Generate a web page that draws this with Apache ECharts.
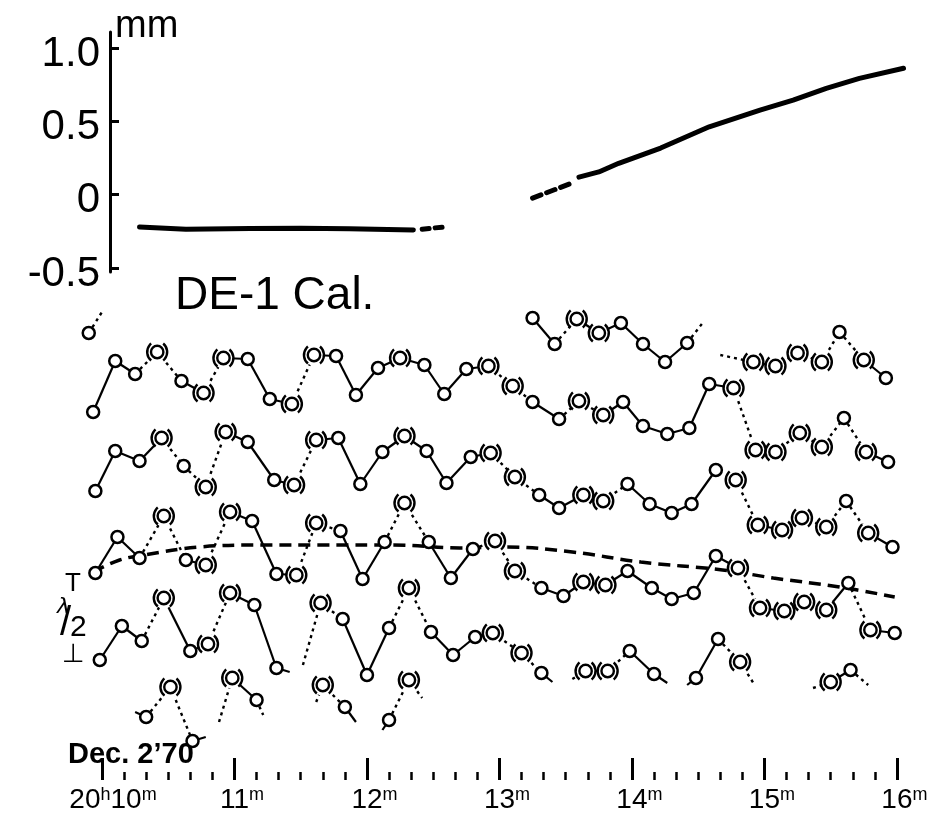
<!DOCTYPE html>
<html>
<head>
<meta charset="utf-8">
<title>DE-1 Cal.</title>
<script src="https://cdn.jsdelivr.net/npm/echarts@6/dist/echarts.min.js"></script>
<style>
  html, body { margin: 0; background: #fff; }
  #chart { width: 935px; height: 822px; }
</style>
</head>
<body>
<div id="chart"></div>
<script>
// time axis: seconds after 20h10m00s, Dec. 2 '70
const majorTicks = [0, 60, 120, 180, 240, 300, 360];
const tickHour = '20';
const tickMinutes = ['10', '11', '12', '13', '14', '15', '16'];
const minorTicks = [];
for (let s = 0; s <= 360; s += 10) if (s % 60) minorTicks.push(s);

// calibration, mm
const calTicks = [-0.5, 0, 0.5, 1.0];
const calLowSolid = [[17, -0.22], [38, -0.235], [67, -0.23], [90, -0.228], [112, -0.232], [141, -0.24]];
const calLowDash = [[145, -0.235], [155, -0.22]];
const calRiseDash = [[195, -0.023], [213, 0.08]];
const calRiseSolid = [[216, 0.12], [225, 0.155], [234, 0.214], [253, 0.318], [275, 0.463], [298, 0.577],
  [313, 0.645], [328, 0.725], [343, 0.793], [363, 0.862]];

// fringe rows: [t, offset, marker, segment from previous point]
// marker 'o' circle, 'p' bracketed circle, '' none; segment 's' solid, 'd' dotted, '' none
const row0 = [
  [-6, 44.7, 'o', ''], [0, 46.8, '', 'd'],
  [195, 46.2, 'o', ''], [205, 43.6, 'o', 's'], [215, 46.1, 'p', 'd'], [225, 44.7, 'p', 's'],
  [235, 45.7, 'o', 's'], [245, 43.6, 'o', 's'], [255, 41.8, 'o', 's'], [265, 43.7, 'o', 's'],
  [272, 45.7, '', 'd'],
  [280, 42.5, '', ''], [295, 41.8, 'p', 'd'], [305, 41.4, 'p', 's'], [315, 42.7, 'p', 'd'],
  [326, 41.8, 'p', 'd'], [334, 44.8, 'o', 'd'], [345, 42.0, 'p', 'd'], [355, 40.2, 'o', 's'],
];
const row1 = [
  [-4, 36.8, 'o', ''], [6, 41.9, 'o', 's'], [15, 40.6, 'o', 's'], [25, 42.8, 'p', 'd'],
  [36, 39.9, 'o', 'd'], [46, 38.7, 'p', 's'], [55, 42.2, 'p', 'd'], [66, 42.1, 'o', 's'],
  [76, 38.1, 'o', 's'], [86, 37.6, 'p', 's'], [96, 42.5, 'p', 'd'], [106, 42.4, 'o', 's'],
  [115, 38.5, 'o', 's'], [125, 41.2, 'o', 's'], [135, 42.2, 'p', 's'], [146, 41.5, 'o', 's'],
  [155, 38.6, 'o', 's'], [165, 41.1, 'o', 's'], [175, 41.4, 'p', 's'], [186, 39.4, 'p', 'd'],
  [195, 37.8, 'o', 'd'], [207, 36.1, 'o', 's'], [216, 37.9, 'p', 'd'], [227, 36.5, 'p', 'd'],
  [236, 37.8, 'o', 's'], [245, 35.4, 'o', 's'], [256, 34.6, 'o', 's'], [266, 35.2, 'o', 's'],
  [275, 39.6, 'o', 's'], [286, 39.2, 'p', 's'], [296, 33.0, 'p', 'd'], [305, 32.8, 'p', 's'],
  [316, 34.7, 'p', 'd'], [326, 33.3, 'p', 'd'], [336, 36.2, 'o', 'd'], [346, 32.8, 'p', 'd'],
  [356, 31.8, 'o', 's'],
];
const row2 = [
  [-3, 28.9, 'o', ''], [6, 32.9, 'o', 's'], [17, 31.9, 'o', 's'], [27, 34.2, 'p', 's'],
  [37, 31.4, 'o', 'd'], [47, 29.3, 'p', 'd'], [56, 34.8, 'p', 'd'], [66, 33.8, 'o', 's'],
  [78, 30.0, 'o', 's'], [87, 29.5, 'p', 's'], [97, 34.0, 'p', 'd'], [107, 34.2, 'o', 's'],
  [117, 29.6, 'o', 's'], [127, 32.8, 'o', 's'], [137, 34.4, 'p', 's'], [147, 32.9, 'o', 's'],
  [156, 29.7, 'o', 's'], [167, 32.3, 'o', 's'], [176, 32.7, 'p', 's'], [187, 30.3, 'p', 'd'],
  [198, 28.5, 'o', 'd'], [207, 27.2, 'o', 's'], [218, 28.5, 'p', 's'], [227, 27.9, 'p', 's'],
  [238, 29.6, 'o', 'd'], [248, 27.6, 'o', 's'], [258, 26.7, 'o', 's'], [267, 27.6, 'o', 's'],
  [278, 31.0, 'o', 's'], [287, 30.0, 'p', ''], [297, 25.5, 'p', 'd'], [308, 25.0, 'p', 's'],
  [317, 26.2, 'p', 'd'], [328, 25.3, 'p', 'd'], [337, 27.9, 'o', 'd'], [347, 24.7, 'p', 'd'],
  [358, 23.3, 'o', 's'],
];
const row3 = [
  [-3, 20.7, 'o', ''], [7, 24.3, 'o', 's'], [17, 22.2, 'o', 's'], [28, 26.4, 'p', 'd'],
  [38, 22.0, 'o', 'd'], [47, 21.5, 'p', 's'], [58, 26.8, 'p', 'd'], [68, 25.9, 'o', 's'],
  [79, 20.6, 'o', 's'], [88, 20.5, 'p', 's'], [97, 25.7, 'p', 'd'], [108, 24.9, 'o', 'd'],
  [118, 20.1, 'o', 's'], [128, 23.8, 'o', 's'], [137, 27.7, 'p', 'd'], [148, 23.8, 'o', 'd'],
  [158, 20.2, 'o', 's'], [168, 23.1, 'o', 's'], [178, 23.9, 'p', 'd'], [187, 20.9, 'p', 'd'],
  [199, 19.2, 'o', 'd'], [209, 18.4, 'o', 's'], [218, 19.8, 'p', 's'], [228, 19.5, 'p', 's'],
  [238, 20.9, 'o', 's'], [249, 19.2, 'o', 's'], [258, 18.1, 'o', 's'], [268, 18.7, 'o', 's'],
  [278, 22.4, 'o', 's'], [288, 21.2, 'p', 's'], [298, 17.2, 'p', 'd'], [309, 16.9, 'p', 's'],
  [318, 17.8, 'p', 'd'], [328, 17.0, 'p', 'd'], [338, 19.7, 'o', 's'], [348, 15.0, 'p', 'd'],
  [359, 14.7, 'o', 's'],
];
const row4 = [
  [-1, 12.0, 'o', ''], [9, 15.4, 'o', 's'], [18, 13.9, 'o', 's'], [28, 18.2, 'p', 'd'],
  [40, 12.9, 'o', 's'], [48, 13.6, 'p', 's'], [58, 18.7, 'p', 'd'], [69, 17.5, 'o', 's'],
  [79, 11.2, 'o', 's'], [85, 10.8, '', 's'],
  [91, 11.5, '', ''], [99, 17.7, 'p', 'd'], [109, 16.1, 'o', 'd'], [120, 10.5, 'o', 's'],
  [130, 15.2, 'o', 's'], [139, 19.2, 'p', 'd'], [149, 14.8, 'o', 'd'], [159, 12.5, 'o', 's'],
  [169, 14.3, 'o', 's'], [177, 14.7, 'p', 's'], [190, 12.7, 'p', 'd'], [199, 10.7, 'o', 'd'],
  [204, 9.8, '', 's'],
  [213, 10.1, '', ''], [219, 10.9, 'p', 'd'], [229, 10.9, 'p', 's'], [239, 12.9, 'o', 'd'],
  [250, 10.6, 'o', 's'], [256, 9.7, '', 's'],
  [265, 9.5, '', ''], [269, 10.2, 'o', 's'], [279, 14.1, 'o', 's'], [289, 11.8, 'p', 'd'],
  [295, 9.7, '', 'd'],
  [322, 9.2, '', ''], [330, 9.8, 'p', 'd'], [339, 11.0, 'o', 's'], [347, 9.5, '', 'd'],
];
const row5 = [
  [15, 6.8, '', ''], [20, 6.3, 'o', 's'], [31, 9.3, 'p', 'd'], [41, 3.9, 'o', 'd'], [47, 4.3, '', 's'],
  [53, 5.8, '', ''], [59, 10.2, 'p', 'd'], [70, 8.0, 'o', 's'], [73, 6.5, '', 'd'],
  [97, 7.8, '', ''], [100, 9.5, 'p', 'd'], [110, 7.3, 'o', 'd'], [115, 5.8, '', 's'],
  [127, 5.0, '', ''], [130, 6.0, 'o', 's'], [139, 10.0, 'p', 'd'], [145, 8.2, '', 'd'],
];
const meanCurve = [[-4, 20.8], [8, 22.0], [19, 22.5], [44, 23.3], [72, 23.5], [102, 23.5], [132, 23.5],
  [162, 23.2], [183, 23.3], [213, 22.8], [244, 21.8], [281, 21.0], [304, 20.2], [334, 19.3], [359, 18.3]];

const FONT = 'Liberation Sans';

const rows = [row0, row1, row2, row3, row4, row5];
const solidSegs = [];
const dottedSegs = [];
const circles = [];
const bracketed = [];
rows.forEach((row) => {
  row.forEach((p, i) => {
    const [t, v, mark, seg] = p;
    if (i > 0 && seg) {
      const prev = row[i - 1];
      (seg === 's' ? solidSegs : dottedSegs).push({ coords: [[prev[0], prev[1]], [t, v]] });
    }
    if (mark === 'o') circles.push([t, v]);
    if (mark === 'p') bracketed.push([t, v]);
  });
});

const calLine = (data, dash) => ({
  type: 'line',
  xAxisIndex: 0,
  yAxisIndex: 0,
  data,
  symbol: 'none',
  lineStyle: { color: '#000', width: 5, type: dash || 'solid', cap: 'round' },
});

const chart = echarts.init(document.getElementById('chart'));
chart.setOption({
  animation: false,
  backgroundColor: '#fff',
  title: {
    text: 'DE-1 Cal.',
    left: 175,
    top: 273,
    padding: 0,
    textStyle: { fontFamily: FONT, fontSize: 46, fontWeight: 'normal', color: '#000' },
  },
  grid: [
    { left: 110, right: 16, top: 32, bottom: 550 },
    { left: 57.83, right: 16, top: 300, bottom: 42 },
  ],
  xAxis: [
    { gridIndex: 0, type: 'value', min: 3.623, max: 370, show: false },
    {
      gridIndex: 1,
      type: 'value',
      position: 'bottom',
      min: -20,
      max: 370,
      axisLine: { show: false },
      splitLine: { show: false },
      axisTick: { show: true, inside: true, length: 22, customValues: majorTicks, lineStyle: { color: '#000', width: 3 } },
      axisLabel: {
        customValues: majorTicks,
        margin: 6,
        color: '#000',
        fontFamily: FONT,
        formatter: (v) => {
          const i = majorTicks.indexOf(v);
          if (i === 0) return `{a|${tickHour}}{s|h}{n|${tickMinutes[0]}}{s|m}`;
          return `{b|${tickMinutes[i]}}{s|m}`;
        },
        rich: {
          a: { fontFamily: FONT, fontSize: 28, color: '#000', padding: [0, 0, 0, 22] },
          b: { fontFamily: FONT, fontSize: 28, color: '#000', padding: [0, 0, 0, 15] },
          n: { fontFamily: FONT, fontSize: 28, color: '#000' },
          s: { fontFamily: FONT, fontSize: 18, color: '#000', verticalAlign: 'top', padding: [0, 0, 6, 0] },
        },
      },
    },
    {
      gridIndex: 1,
      type: 'value',
      position: 'bottom',
      offset: 0,
      min: -20,
      max: 370,
      axisLine: { show: false },
      splitLine: { show: false },
      axisLabel: { show: false },
      axisTick: { show: true, inside: true, length: 8, customValues: minorTicks, lineStyle: { color: '#000', width: 2.5 } },
    },
  ],
  yAxis: [
    {
      gridIndex: 0,
      type: 'value',
      min: -0.527,
      max: 1.109,
      splitLine: { show: false },
      axisLine: { show: true, lineStyle: { color: '#000', width: 3 } },
      axisTick: { show: true, inside: true, length: 9, customValues: calTicks, lineStyle: { color: '#000', width: 3 } },
      axisLabel: {
        customValues: calTicks,
        margin: 10,
        color: '#000',
        formatter: (v) => `{v|${v === 1 ? '1.0' : String(v)}}`,
        rich: {
          v: { fontFamily: FONT, fontSize: 42, color: '#000', padding: [12, 0, 0, 0] },
        },
      },
    },
    { gridIndex: 1, type: 'value', min: 0, max: 48, show: false },
  ],
  graphic: [
    { type: 'text', left: 115, top: 8, style: { text: 'mm', font: `38px "${FONT}"`, fill: '#000' } },
    { type: 'text', left: 68, top: 740, style: { text: 'Dec. 2’70', font: `bold 29px "${FONT}"`, fill: '#000' } },
    { type: 'text', left: 65, top: 571, style: { text: 'T', font: `26px "${FONT}"`, fill: '#000' } },
    { type: 'text', left: 57, top: 596, style: { text: 'λ', font: `italic 22px "DejaVu Sans"`, fill: '#000' } },
    { type: 'text', left: 60, top: 604, style: { text: '/', font: `40px "${FONT}"`, fill: '#000' } },
    { type: 'text', left: 70, top: 613, style: { text: '2', font: `30px "${FONT}"`, fill: '#000' } },
    { type: 'text', left: 62, top: 642, style: { text: '⊥', font: `26px "DejaVu Sans"`, fill: '#000' } },
  ],
  series: [
    calLine(calLowSolid),
    calLine(calLowDash, [7, 6]),
    calLine(calRiseDash, [9, 6]),
    calLine(calRiseSolid),
    {
      type: 'lines',
      coordinateSystem: 'cartesian2d',
      xAxisIndex: 1,
      yAxisIndex: 1,
      z: 2,
      data: solidSegs,
      lineStyle: { color: '#000', width: 2.2, opacity: 1, curveness: 0 },
    },
    {
      type: 'lines',
      coordinateSystem: 'cartesian2d',
      xAxisIndex: 1,
      yAxisIndex: 1,
      z: 2,
      data: dottedSegs,
      lineStyle: { color: '#000', width: 2.4, opacity: 1, curveness: 0, type: [3, 4] },
    },
    {
      type: 'line',
      xAxisIndex: 1,
      yAxisIndex: 1,
      z: 3,
      data: meanCurve,
      smooth: 0.4,
      symbol: 'none',
      lineStyle: { color: '#000', width: 3.5, type: [12, 7] },
    },
    {
      type: 'scatter',
      xAxisIndex: 1,
      yAxisIndex: 1,
      z: 4,
      data: circles,
      symbol: 'circle',
      symbolSize: 12,
      itemStyle: { color: '#fff', borderColor: '#000', borderWidth: 2.5, opacity: 1 },
    },
    {
      type: 'custom',
      xAxisIndex: 1,
      yAxisIndex: 1,
      z: 4,
      data: bracketed,
      renderItem: (params, api) => {
        const c = api.coord([api.value(0), api.value(1)]);
        const pen = { stroke: '#000', lineWidth: 2.4, fill: null };
        return {
          type: 'group',
          children: [
            { type: 'circle', shape: { cx: c[0], cy: c[1], r: 10.5 }, style: { fill: '#fff' } },
            { type: 'circle', shape: { cx: c[0], cy: c[1], r: 6.2 }, style: { fill: '#fff', stroke: '#000', lineWidth: 2.4 } },
            { type: 'arc', shape: { cx: c[0] + 1, cy: c[1], r: 11, startAngle: Math.PI * 0.72, endAngle: Math.PI * 1.28, clockwise: true }, style: pen },
            { type: 'arc', shape: { cx: c[0] - 1, cy: c[1], r: 11, startAngle: -Math.PI * 0.28, endAngle: Math.PI * 0.28, clockwise: true }, style: pen },
          ],
        };
      },
    },
  ],
});
</script>
</body>
</html>
